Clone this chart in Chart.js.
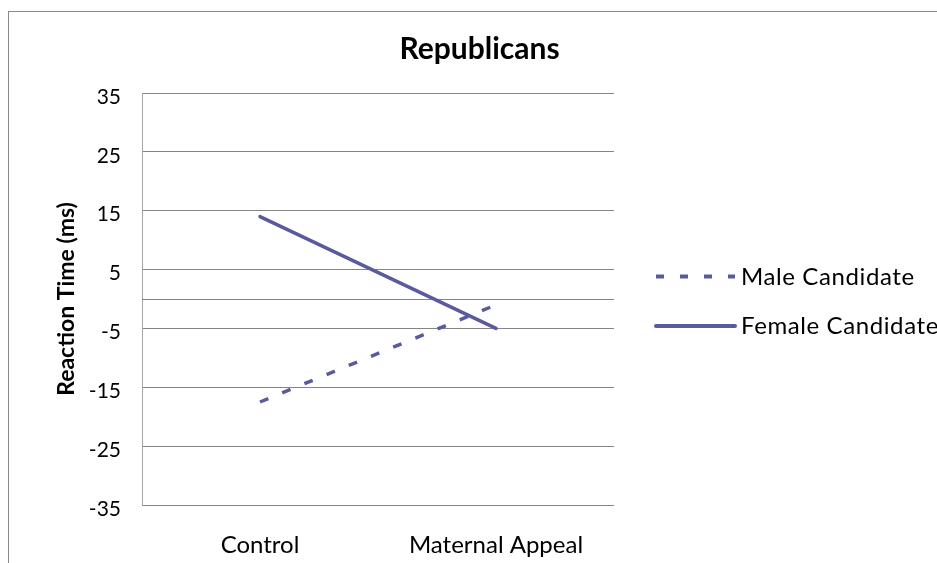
<!DOCTYPE html>
<html>
<head>
<meta charset="utf-8">
<title>Republicans</title>
<script src="https://cdn.jsdelivr.net/npm/chart.js@4"></script>
<style>
  html, body { margin: 0; padding: 0; background: #fff; overflow: hidden; }
  #wrap { position: relative; width: 958px; height: 563px; }
</style>
</head>
<body>
<div id="wrap"><canvas id="rtChart"></canvas></div>
<script>
// Reaction time by condition
const categories = ['Control', 'Maternal Appeal'];
const maleCandidate = [-17.5, -1];
const femaleCandidate = [14, -5];
const yTicks = [-35, -25, -15, -5, 5, 15, 25, 35];
const axisCross = 0;
const chartTitle = 'Republicans';

const lineColor = '#5a5a9e';
const gridColor = '#858585';
const fontFamily = 'Lato, "Open Sans", sans-serif';

Chart.defaults.font.family = fontFamily;
Chart.defaults.color = '#000';

// outer frame of the chart object and its title, centred on the frame
const frame = {
  id: 'frame',
  beforeDraw(chart) {
    const ctx = chart.ctx;
    ctx.save();
    ctx.strokeStyle = '#8a8a8a';
    ctx.lineWidth = 1;
    ctx.strokeRect(8.5, 11.5, 942, 600);
    ctx.restore();
  },
  afterDraw(chart) {
    const ctx = chart.ctx;
    ctx.save();
    ctx.fillStyle = '#000';
    ctx.font = 'bold 30px ' + fontFamily;
    ctx.textAlign = 'center';
    ctx.textBaseline = 'middle';
    ctx.fillText(chartTitle, 479.5, 49);
    ctx.restore();
  }
};

// horizontal axis crosses the value axis at zero
const crossLine = {
  id: 'crossLine',
  beforeDatasetsDraw(chart) {
    const { ctx, chartArea, scales } = chart;
    const y = Math.round(scales.y.getPixelForValue(axisCross)) + 0.5;
    ctx.save();
    ctx.strokeStyle = gridColor;
    ctx.lineWidth = 1;
    ctx.beginPath();
    ctx.moveTo(chartArea.left, y);
    ctx.lineTo(chartArea.right, y);
    ctx.stroke();
    ctx.restore();
  }
};

// legend to the right of the plot
const sideLegend = {
  id: 'sideLegend',
  afterDraw(chart) {
    const { ctx, chartArea } = chart;
    const x0 = chartArea.right + 42;
    const sample = 79;
    let y = 276.5;
    ctx.save();
    chart.data.datasets.forEach(ds => {
      ctx.strokeStyle = ds.borderColor;
      ctx.lineWidth = 4;
      ctx.lineCap = ds.borderCapStyle || 'butt';
      ctx.setLineDash(ds.borderDash ? [8, 16] : []);
      ctx.beginPath();
      ctx.moveTo(x0, y);
      ctx.lineTo(x0 + sample, y);
      ctx.stroke();
      ctx.setLineDash([]);
      ctx.fillStyle = '#000';
      ctx.font = '24px ' + fontFamily;
      ctx.letterSpacing = '0.6px';
      ctx.textBaseline = 'middle';
      ctx.textAlign = 'left';
      ctx.fillText(ds.label, x0 + sample + 6, y + 0.5);
      y += 49.5;
    });
    ctx.restore();
  }
};

new Chart(document.getElementById('rtChart'), {
  type: 'line',
  data: {
    labels: categories,
    datasets: [{
      label: 'Male Candidate',
      data: maleCandidate,
      borderColor: lineColor,
      borderWidth: 3.5,
      borderDash: [9, 15],
      borderCapStyle: 'butt',
      pointRadius: 0,
      tension: 0,
      fill: false
    }, {
      label: 'Female Candidate',
      data: femaleCandidate,
      borderColor: lineColor,
      borderWidth: 3.5,
      borderCapStyle: 'round',
      pointRadius: 0,
      tension: 0,
      fill: false
    }]
  },
  options: {
    responsive: true,
    maintainAspectRatio: false,
    animation: false,
    layout: { padding: { left: 0, top: 93, right: 344, bottom: 0 } },
    plugins: {
      legend: { display: false },
      tooltip: { enabled: false },
      title: { display: false }
    },
    scales: {
      x: {
        offset: true,
        grid: { display: false, drawTicks: false },
        border: { display: false },
        ticks: { font: { size: 24 }, padding: 26, maxRotation: 0, autoSkip: false },
        afterFit(scale) { scale.height = 58; }
      },
      y: {
        min: yTicks[0],
        max: yTicks[yTicks.length - 1],
        afterBuildTicks(scale) {
          scale.ticks = yTicks.map(v => ({ value: v }));
        },
        grid: { color: gridColor, lineWidth: 1, drawTicks: false },
        border: { display: true, color: '#a6a6a6', width: 1 },
        ticks: { font: { size: 21 }, padding: 21, labelOffset: 4 },
        title: {
          display: true,
          text: 'Reaction Time (ms)',
          color: '#000',
          font: { size: 23, weight: 'bold' },
          padding: { top: 53, bottom: 0 }
        },
        afterFit(scale) { scale.width = 142; }
      }
    }
  },
  plugins: [frame, crossLine, sideLegend]
});
</script>
</body>
</html>
